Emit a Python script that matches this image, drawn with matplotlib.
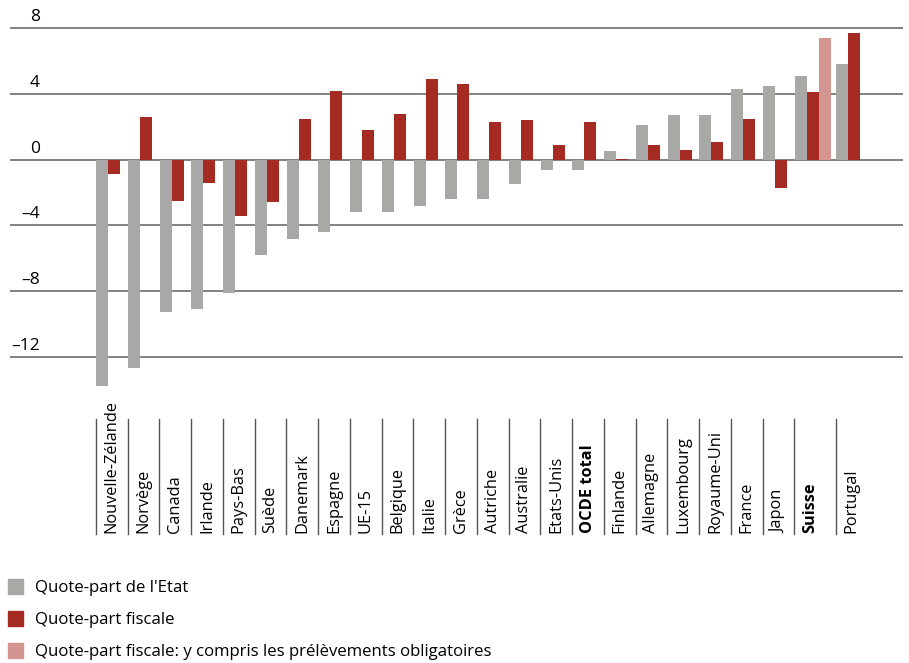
"""
Quote-part de l'Etat et quote-part fiscale: variation par pays (en points)
"""

import numpy as np
import matplotlib
matplotlib.use('Agg')
import matplotlib.pyplot as plt
import matplotlib.transforms as mtransforms
from matplotlib.patches import Rectangle
from matplotlib.lines import Line2D

plt.rcParams['font.family'] = ['Open Sans', 'DejaVu Sans']

# donnees
pays = ['Nouvelle-Zélande', 'Norvège', 'Canada', 'Irlande', 'Pays-Bas', 'Suède',
        'Danemark', 'Espagne', 'UE-15', 'Belgique', 'Italie', 'Grèce', 'Autriche',
        'Australie', 'Etats-Unis', 'OCDE total', 'Finlande', 'Allemagne',
        'Luxembourg', 'Royaume-Uni', 'France', 'Japon', 'Suisse', 'Portugal']
quote_etat = [-13.8, -12.7, -9.3, -9.1, -8.1, -5.8, -4.8, -4.4, -3.2, -3.2, -2.8, -2.4,
              -2.4, -1.5, -0.6, -0.6, 0.5, 2.1, 2.7, 2.7, 4.3, 4.5, 5.1, 5.8]
quote_fiscale = [-0.9, 2.6, -2.5, -1.4, -3.4, -2.6, 2.5, 4.2, 1.8, 2.8, 4.9, 4.6,
                 2.3, 2.4, 0.9, 2.3, 0.05, 0.9, 0.6, 1.1, 2.5, -1.7, 4.1, 7.7]
prelevements_pays = ['Suisse']
prelevements = [7.4]
en_gras = ['OCDE total', 'Suisse']
y_ticks = [-12, -8, -4, 0, 4, 8]
legende = ['Quote-part de l\'Etat', 'Quote-part fiscale',
           'Quote-part fiscale: y compris les prélèvements obligatoires']

GRIS = '#a8a8a7'
ROUGE = '#a52a22'
ROSE = '#d49590'
couleurs = [GRIS, ROUGE, ROSE]

W, H = 909, 663
fig = plt.figure(figsize=(W / 100, H / 100), dpi=100)

# axe en pixels: gauche 10, droite 903, haut 20 (y=8.5), bas 389.7 (y=-14)
ax = fig.add_axes([10 / W, (H - 389.7) / H, 893 / W, (389.7 - 20.0) / H])

larg_bar = 0.378
larg_case = [1.31 if p in prelevements_pays else 1.0 for p in pays]
gauche = np.concatenate([[0], np.cumsum(larg_case)[:-1]])

ax.bar(gauche + 0.01, quote_etat, width=larg_bar, align='edge', color=GRIS, zorder=3)
ax.bar(gauche + 0.01 + larg_bar, quote_fiscale, width=larg_bar, align='edge',
       color=ROUGE, zorder=3)
idx = [pays.index(p) for p in prelevements_pays]
ax.bar(gauche[idx] + 0.01 + 2 * larg_bar, prelevements, width=larg_bar, align='edge',
       color=ROSE, zorder=3)

ax.set_xlim(-2.70, 25.42)
ax.set_ylim(-14, 8.5)
ax.set_yticks(y_ticks)
ax.set_xticks([])
ax.tick_params(axis='y', length=0, labelleft=False)
ax.grid(axis='y', color='#5e5e5e', linewidth=1.1, zorder=1)
for s in ax.spines.values():
    s.set_visible(False)

# graduations au-dessus des lignes
decal = mtransforms.offset_copy(ax.get_yaxis_transform(), fig=fig, x=0, y=3, units='dots')
for t in y_ticks:
    txt = str(t).replace('-', '–')
    ax.text(30 / 893, t, txt, transform=decal, ha='right', va='bottom', fontsize=12.5)

# noms des pays et separateurs
mixte = mtransforms.blended_transform_factory(ax.transData, fig.transFigure)
y_haut, y_bas = (H - 419) / H, (H - 534) / H
for i, p in enumerate(pays):
    ax.add_line(Line2D([gauche[i], gauche[i]], [y_haut, y_bas], transform=mixte,
                       color='#555555', linewidth=1.0, clip_on=False))
    ax.text(gauche[i] + 0.5, (H - 533) / H, p, transform=mixte, rotation=90,
            ha='center', va='bottom', fontsize=11.8,
            fontweight='bold' if p in en_gras else 'normal')

# legende
for k, (lab, c) in enumerate(zip(legende, couleurs)):
    yc = [586, 618, 650][k]
    fig.patches.append(Rectangle((8 / W, (H - yc - 7.5) / H), 15 / W, 15 / H,
                                 transform=fig.transFigure, color=c))
    fig.text(35 / W, (H - yc - 2) / H, lab, ha='left', va='center', fontsize=12.1)

fig.savefig('out.png', dpi=100)
